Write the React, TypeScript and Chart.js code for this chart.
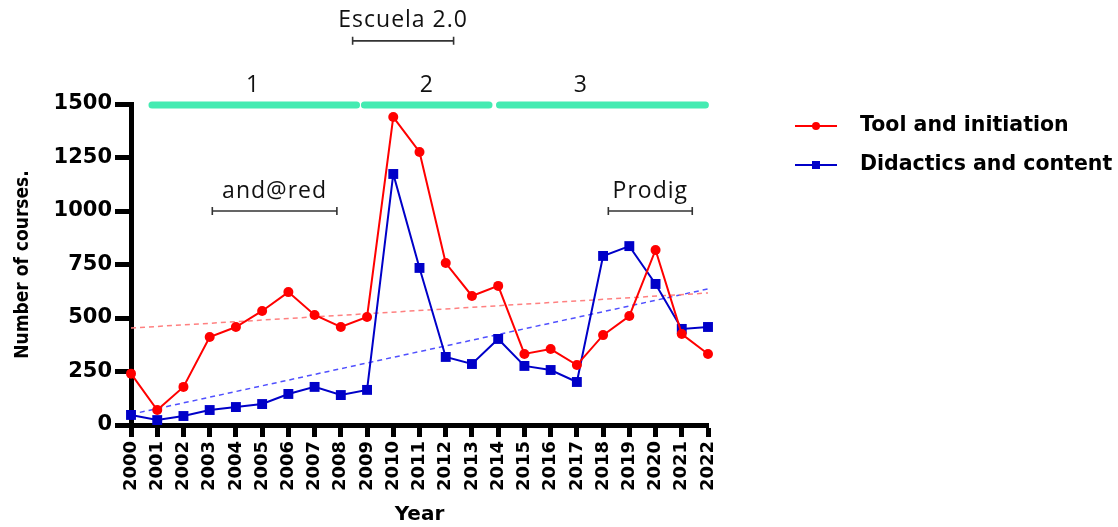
import React, { useEffect, useRef } from 'react';
import { Chart, registerables } from 'chart.js';

Chart.register(...registerables);

const years = ['2000', '2001', '2002', '2003', '2004', '2005', '2006', '2007', '2008', '2009', '2010', '2011', '2012', '2013', '2014', '2015', '2016', '2017', '2018', '2019', '2020', '2021', '2022'];
const toolInitiation = [240, 70, 178, 411, 458, 533, 621, 514, 458, 505, 1439, 1276, 757, 603, 650, 332, 355, 280, 420, 509, 818, 425, 332];
const didacticsContent = [47, 23, 42, 70, 84, 98, 145, 178, 140, 164, 1173, 734, 318, 285, 402, 276, 257, 201, 790, 836, 659, 449, 458];
// trend line values at first and last year
const toolTrend = [453, 617];
const didacticsTrend = [50, 636];
const yTickValues = [0, 250, 500, 750, 1000, 1250, 1500];

// phase bars (in year-index units)
const phaseLabels = ['1', '2', '3'];
const phaseStart = [0.8, 8.9, 14.05];
const phaseEnd = [8.6, 13.65, 21.9];
const phaseLabelAt = [4.65, 11.28, 17.15];
const phaseLevel = 1500;

// programme brackets
const programLabels = ['Escuela 2.0', 'and@red', 'Prodig'];
const programStart = [8.45, 3.1, 18.2];
const programEnd = [12.3, 7.85, 21.4];
const programLevel = [1795, 1000, 1000];

const legendLabels = ['Tool and initiation', 'Didactics and content'];

const RED = '#ff0000';
const BLUE = '#0000c8';
const GREEN = '#45ebb2';

const trendData = (ends: number[]) => years.map((_, i) => (i === 0 ? ends[0] : i === years.length - 1 ? ends[1] : null));

const annotationPlugin = {
  id: 'annotations',
  afterDraw(chart: any) {
    const { ctx, scales, chartArea } = chart;
    const x = scales.x;
    const y = scales.y;
    ctx.save();
    // phase bars
    ctx.lineCap = 'round';
    ctx.strokeStyle = GREEN;
    ctx.lineWidth = 7;
    const by = y.getPixelForValue(phaseLevel) + 1;
    phaseLabels.forEach((lab, i) => {
      ctx.beginPath();
      ctx.moveTo(x.getPixelForValue(phaseStart[i]), by);
      ctx.lineTo(x.getPixelForValue(phaseEnd[i]), by);
      ctx.stroke();
    });
    ctx.fillStyle = '#111';
    ctx.font = '23px "Open Sans"';
    try { (ctx as any).letterSpacing = '1px'; } catch (e) {}
    ctx.textAlign = 'center';
    ctx.textBaseline = 'middle';
    phaseLabels.forEach((lab, i) => {
      ctx.fillText(lab, x.getPixelForValue(phaseLabelAt[i]), by - 20);
    });
    // brackets
    ctx.lineCap = 'butt';
    ctx.strokeStyle = '#333';
    ctx.lineWidth = 1.6;
    programLabels.forEach((lab, i) => {
      const x1 = x.getPixelForValue(programStart[i]);
      const x2 = x.getPixelForValue(programEnd[i]);
      const ly = y.getPixelForValue(programLevel[i]);
      ctx.beginPath();
      ctx.moveTo(x1, ly);
      ctx.lineTo(x2, ly);
      ctx.moveTo(x1, ly - 4);
      ctx.lineTo(x1, ly + 4);
      ctx.moveTo(x2, ly - 4);
      ctx.lineTo(x2, ly + 4);
      ctx.stroke();
      ctx.fillText(lab, (x1 + x2) / 2, ly - 20);
    });
    try { (ctx as any).letterSpacing = '0px'; } catch (e) {}
    // legend
    const lx = chartArea.right + 87;
    const colors = [RED, BLUE];
    legendLabels.forEach((lab, i) => {
      const ly = 126 + i * 39;
      ctx.strokeStyle = colors[i];
      ctx.lineWidth = 2;
      ctx.beginPath();
      ctx.moveTo(lx, ly);
      ctx.lineTo(lx + 42, ly);
      ctx.stroke();
      ctx.fillStyle = colors[i];
      if (i === 0) {
        ctx.beginPath();
        ctx.arc(lx + 21, ly, 4, 0, Math.PI * 2);
        ctx.fill();
      } else {
        ctx.fillRect(lx + 17, ly - 4, 8, 8);
      }
      ctx.fillStyle = '#000';
      ctx.font = 'bold 20.5px "DejaVu Sans"';
      ctx.textAlign = 'left';
      ctx.fillText(lab, lx + 65, ly);
    });
    ctx.restore();
  },
};

export default function App() {
  const ref = useRef<HTMLCanvasElement>(null);
  useEffect(() => {
    if (!ref.current) return;
    const chart = new Chart(ref.current, {
      type: 'line',
      data: {
        labels: years,
        datasets: [
          {
            label: legendLabels[0],
            data: toolInitiation,
            borderColor: RED,
            backgroundColor: RED,
            borderWidth: 2,
            pointStyle: 'circle',
            pointRadius: 5,
            pointBorderWidth: 0,
            tension: 0,
            clip: false as any,
          },
          {
            label: legendLabels[1],
            data: didacticsContent,
            borderColor: BLUE,
            backgroundColor: BLUE,
            borderWidth: 2,
            pointStyle: 'rect',
            pointRadius: 7,
            pointBorderWidth: 0,
            tension: 0,
            clip: false as any,
          },
          {
            label: 'trend1',
            data: trendData(toolTrend),
            borderColor: '#ff8080',
            borderWidth: 1.5,
            borderDash: [5, 4],
            pointRadius: 0,
            spanGaps: true,
          },
          {
            label: 'trend2',
            data: trendData(didacticsTrend),
            borderColor: '#5050ff',
            borderWidth: 1.5,
            borderDash: [5, 4],
            pointRadius: 0,
            spanGaps: true,
          },
        ],
      },
      options: {
        animation: false,
        responsive: true,
        maintainAspectRatio: false,
        layout: { padding: { left: 0, top: 104, right: 410, bottom: 0 } },
        plugins: { legend: { display: false }, tooltip: { enabled: false } },
        scales: {
          x: {
            type: 'category',
            offset: false,
            grid: { drawOnChartArea: false, drawTicks: true, tickLength: 12, tickWidth: 5, tickColor: '#000' },
            border: { display: true, width: 5, color: '#000' },
            ticks: {
              autoSkip: false,
              maxRotation: 90,
              minRotation: 90,
              color: '#000',
              padding: 4,
              font: { family: 'DejaVu Sans', weight: 'bold', size: 18 },
            },
            title: {
              display: true,
              text: 'Year',
              color: '#000',
              padding: { top: 0, bottom: 0 },
              font: { family: 'DejaVu Sans', weight: 'bold', size: 20 },
            },
            afterFit: (s: any) => {
              s.height = 102;
            },
          },
          y: {
            min: 0,
            max: 1500,
            afterBuildTicks: (s: any) => {
              s.ticks = yTickValues.map((v) => ({ value: v }));
            },
            grid: { drawOnChartArea: false, drawTicks: true, tickLength: 16, tickWidth: 5, tickColor: '#000' },
            border: { display: true, width: 5, color: '#000' },
            ticks: {
              color: '#000',
              padding: 3,
              callback: (v: any) => String(v),
              font: { family: 'DejaVu Sans', weight: 'bold', size: 21 },
            },
            title: {
              display: true,
              text: 'Number of courses.',
              color: '#000',
              padding: { top: 12, bottom: 0 },
              font: { family: 'DejaVu Sans Condensed', weight: 'bold', size: 19 },
            },
            afterFit: (s: any) => {
              s.width = 131;
            },
          },
        },
      },
      plugins: [annotationPlugin],
    });
    return () => chart.destroy();
  }, []);
  return (
    <div style={{ position: 'fixed', left: 0, top: 0, width: 1118, height: 527, background: '#fff' }}>
      <canvas ref={ref} />
    </div>
  );
}
